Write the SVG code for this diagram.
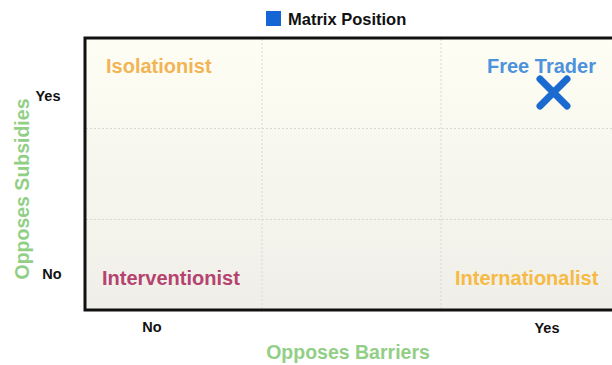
<svg xmlns="http://www.w3.org/2000/svg" width="612" height="365" viewBox="0 0 612 365">
<style>
  text { font-family: "Liberation Sans", Arial, sans-serif; font-weight: bold; }
  .tick { font-size: 14.5px; fill: #111; }
  .axis { font-size: 19.5px; fill: #92cf86; }
  .quad { font-size: 20px; }
  .grid { stroke: #d8d8d0; stroke-width: 1; stroke-dasharray: 2 2; }
</style>
<defs>
  <linearGradient id="bg" x1="0" y1="0" x2="0" y2="1">
    <stop offset="0" stop-color="#fffef4"/>
    <stop offset="1" stop-color="#efeee8"/>
  </linearGradient>
</defs>
<rect x="0" y="0" width="612" height="365" fill="#ffffff"/>
<g id="legend">
  <rect x="266" y="11" width="15" height="15" fill="#1565d4"/>
  <text x="288" y="25" font-size="16.5" fill="#111">Matrix Position</text>
</g>
<g id="plot">
  <rect x="85" y="38" width="540" height="272" fill="url(#bg)"/>
  <line class="grid" x1="262" y1="39" x2="262" y2="309"/>
  <line class="grid" x1="441" y1="39" x2="441" y2="309"/>
  <line class="grid" x1="86" y1="128.5" x2="612" y2="128.5"/>
  <line class="grid" x1="86" y1="219.5" x2="612" y2="219.5"/>
  <path d="M612 38 H85 V310 H612" fill="none" stroke="#111" stroke-width="3"/>
</g>
<g id="isolationist"><text class="quad" x="106" y="73" fill="#f2b455">Isolationist</text></g>
<g id="free-trader">
  <text class="quad" x="487" y="73" fill="#4d92dc">Free Trader</text>
  <path d="M540 79 L567 106 M567 79 L540 106" stroke="#1a6ad0" stroke-width="7" stroke-linecap="round"/>
</g>
<g id="interventionist"><text class="quad" x="102" y="285" fill="#b5436f">Interventionist</text></g>
<g id="internationalist"><text class="quad" x="455" y="285" fill="#f6ba45">Internationalist</text></g>
<g id="axes">
  <text class="tick" x="48" y="101" text-anchor="middle">Yes</text>
  <text class="tick" x="52" y="279" text-anchor="middle">No</text>
  <text class="tick" x="152" y="332" text-anchor="middle">No</text>
  <text class="tick" x="547" y="333" text-anchor="middle">Yes</text>
  <text class="axis" x="348" y="359" text-anchor="middle">Opposes Barriers</text>
  <text class="axis" x="0" y="0" text-anchor="middle" transform="translate(29 189) rotate(-90)">Opposes Subsidies</text>
</g>
</svg>
